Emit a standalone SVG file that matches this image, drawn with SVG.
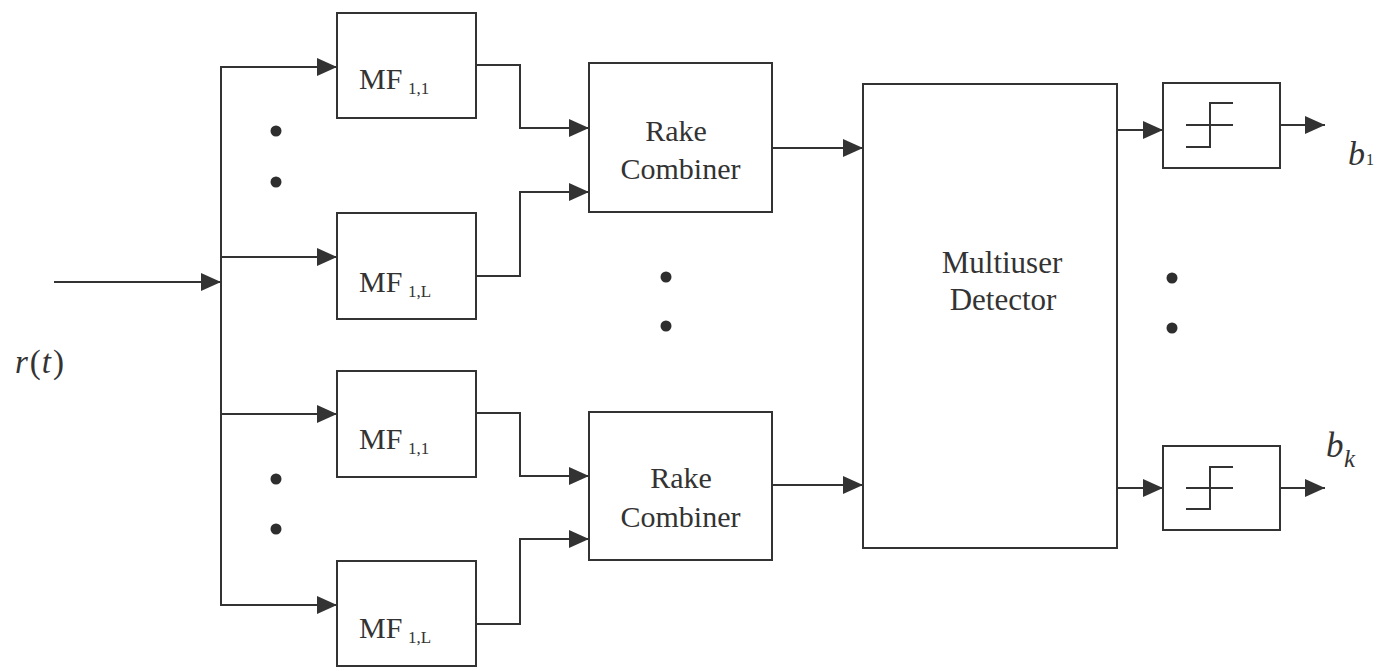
<svg xmlns="http://www.w3.org/2000/svg" width="1378" height="671" viewBox="0 0 1378 671">
  <style>
    .box { fill: #ffffff; stroke: #333333; stroke-width: 2; }
    .wire { fill: none; stroke: #333333; stroke-width: 2; }
    .arrow { fill: none; stroke: #333333; stroke-width: 2; marker-end: url(#head); }
    .step { fill: none; stroke: #333333; stroke-width: 2; }
    .dot { fill: #2e2e2e; }
    .lbl { font-family: "Liberation Serif", "Times New Roman", serif; fill: #333333; }
    .big { font-size: 30px; }
    .huge { font-size: 31px; }
    .sub { font-size: 17px; }
    .math { font-style: italic; }
  </style>
  <defs>
    <marker id="head" markerUnits="userSpaceOnUse" markerWidth="20" markerHeight="18" refX="20" refY="9" orient="auto">
      <path d="M0,0 L20,9 L0,18 Z" fill="#333333"/>
    </marker>
  </defs>

  <rect width="1378" height="671" fill="#ffffff"/>

  <!-- connectors -->
  <g id="connectors">
    <!-- received signal into the splitting bus -->
    <line class="arrow" x1="54" y1="282" x2="221" y2="282"/>
    <line class="wire" x1="221" y1="66" x2="221" y2="606"/>
    <!-- bus to matched filters -->
    <line class="arrow" x1="221" y1="67" x2="337" y2="67"/>
    <line class="arrow" x1="221" y1="257" x2="337" y2="257"/>
    <line class="arrow" x1="221" y1="414" x2="337" y2="414"/>
    <line class="arrow" x1="221" y1="605" x2="337" y2="605"/>
    <!-- matched filters to rake combiners -->
    <polyline class="arrow" points="476,65 520,65 520,128 589,128"/>
    <polyline class="arrow" points="476,276 520,276 520,192 589,192"/>
    <polyline class="arrow" points="476,413 520,413 520,476 589,476"/>
    <polyline class="arrow" points="476,624 520,624 520,539 589,539"/>
    <!-- rake combiners to multiuser detector -->
    <line class="arrow" x1="772" y1="148" x2="863" y2="148"/>
    <line class="arrow" x1="772" y1="485" x2="863" y2="485"/>
    <!-- detector to decision devices -->
    <line class="arrow" x1="1117" y1="130" x2="1163" y2="130"/>
    <line class="arrow" x1="1117" y1="488" x2="1163" y2="488"/>
    <!-- decision outputs -->
    <line class="arrow" x1="1280" y1="125" x2="1325" y2="125"/>
    <line class="arrow" x1="1280" y1="488" x2="1325" y2="488"/>
  </g>

  <!-- matched filters, user 1 -->
  <g id="mf-a1">
    <rect class="box" x="337" y="13" width="139" height="105"/>
    <text class="lbl big" x="359" y="89">MF</text>
    <text class="lbl sub" x="408" y="94">1,1</text>
  </g>
  <g id="mf-aL">
    <rect class="box" x="337" y="213" width="139" height="106"/>
    <text class="lbl big" x="359" y="292">MF</text>
    <text class="lbl sub" x="408" y="297">1,L</text>
  </g>
  <!-- matched filters, user K -->
  <g id="mf-b1">
    <rect class="box" x="337" y="371" width="139" height="106"/>
    <text class="lbl big" x="359" y="449">MF</text>
    <text class="lbl sub" x="408" y="454">1,1</text>
  </g>
  <g id="mf-bL">
    <rect class="box" x="337" y="561" width="139" height="105"/>
    <text class="lbl big" x="359" y="638">MF</text>
    <text class="lbl sub" x="408" y="643">1,L</text>
  </g>

  <!-- rake combiners -->
  <g id="rake-1">
    <rect class="box" x="589" y="63" width="183" height="149"/>
    <text class="lbl big" x="676" y="141" text-anchor="middle">Rake</text>
    <text class="lbl big" x="680.5" y="179" text-anchor="middle">Combiner</text>
  </g>
  <g id="rake-k">
    <rect class="box" x="589" y="412" width="183" height="148"/>
    <text class="lbl big" x="681" y="488" text-anchor="middle">Rake</text>
    <text class="lbl big" x="680.5" y="527" text-anchor="middle">Combiner</text>
  </g>

  <!-- multiuser detector -->
  <g id="detector">
    <rect class="box" x="863" y="84" width="254" height="464"/>
    <text class="lbl huge" x="1002" y="273" text-anchor="middle">Multiuser</text>
    <text class="lbl huge" x="1003" y="310" text-anchor="middle">Detector</text>
  </g>

  <!-- hard decision devices -->
  <g id="decision-1">
    <rect class="box" x="1163" y="83" width="117" height="85"/>
    <path class="step" d="M1186,125 H1233 M1233,103 H1210 V147 H1186"/>
  </g>
  <g id="decision-k">
    <rect class="box" x="1163" y="446" width="117" height="84"/>
    <path class="step" d="M1186,488 H1233 M1233,467 H1210 V509 H1186"/>
  </g>

  <!-- input and output labels -->
  <g id="input-label">
    <text class="lbl" x="15" y="373" font-size="33"><tspan class="math">r</tspan><tspan dx="2">(</tspan><tspan class="math" dx="1">t</tspan><tspan dx="2">)</tspan></text>
  </g>
  <g id="out-b1">
    <text class="lbl math" x="1348" y="165" font-size="34">b</text>
    <text class="lbl" x="1366" y="165" font-size="16">1</text>
  </g>
  <g id="out-bk">
    <text class="lbl math" x="1326" y="457" font-size="35">b</text>
    <text class="lbl math" x="1344" y="467" font-size="25">k</text>
  </g>

  <!-- ellipsis dots -->
  <g id="ellipses">
    <circle class="dot" cx="276" cy="131" r="5.5"/>
    <circle class="dot" cx="276" cy="182" r="5.5"/>
    <circle class="dot" cx="276" cy="479" r="5.5"/>
    <circle class="dot" cx="276" cy="529" r="5.5"/>
    <circle class="dot" cx="666" cy="277" r="5.5"/>
    <circle class="dot" cx="666" cy="326" r="5.5"/>
    <circle class="dot" cx="1172" cy="278" r="5.5"/>
    <circle class="dot" cx="1172" cy="328" r="5.5"/>
  </g>
</svg>
